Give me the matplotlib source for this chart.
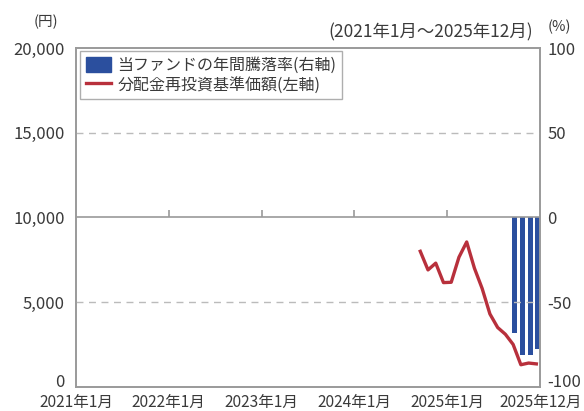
import matplotlib
matplotlib.use('Agg')
import matplotlib.pyplot as plt
from matplotlib.patches import Patch
from matplotlib.lines import Line2D

plt.rcParams['font.family'] = ['Noto Sans CJK JP', 'DejaVu Sans']

# data (month index: 0 = 2021年1月)
tick_pos = [0, 12, 24, 36, 48, 60]
tick_labels = ['2021年1月', '2022年1月', '2023年1月', '2024年1月', '2025年1月', '2025年12月']

nav_month = [44.5, 45.5, 46.5, 47.5, 48.5, 49.5, 50.5, 51.5, 52.5, 53.5,
             54.5, 55.5, 56.5, 57.5, 58.5, 59.5]
nav_value = [8000, 6900, 7300, 6150, 6170, 7650, 8550, 7000, 5800, 4300,
             3500, 3100, 2500, 1300, 1400, 1350]

bar_month = [56.7, 57.7, 58.7, 59.7]
bar_value = [-68.5, -81.5, -81.0, -77.5]

left_ticks = [0, 5000, 10000, 15000, 20000]
left_labels = ['0', '5,000', '10,000', '15,000', '20,000']
right_ticks = [-100, -50, 0, 50, 100]
right_labels = ['-100', '-50', '0', '50', '100']

gray = '#9a9a9a'
txt = '#3a3a3a'
red = '#b8303c'
blue = '#2b4f9e'

fig = plt.figure(figsize=(5.84, 4.11), dpi=100)
ax = fig.add_axes([0.130, 0.059, 0.795, 0.824])
ax2 = ax.twinx()

ax2.bar(bar_month, bar_value, width=0.62, color=blue, zorder=2)
ax2.set_ylim(-100, 100)
ax2.set_yticks(right_ticks)
# lowest labels drawn separately so they sit a touch higher
ax2.set_yticklabels([''] + right_labels[1:])

ax.set_zorder(ax2.get_zorder() + 1)
ax.patch.set_visible(False)

ax.axhline(5000, color='#bbbbbb', lw=1, ls=(0, (5, 4)), zorder=1)
ax.axhline(15000, color='#bbbbbb', lw=1, ls=(0, (5, 4)), zorder=1)
ax.axhline(10000, color=gray, lw=1.2, zorder=1)
ax.vlines(tick_pos[1:5], 10000, 10450, color=gray, lw=1.2, zorder=1)

ax.plot(nav_month, nav_value, color=red, lw=2.4, zorder=3)

ax.set_xlim(0, 60)
ax.set_ylim(0, 20000)
ax.set_yticks(left_ticks)
ax.set_yticklabels([''] + left_labels[1:])
ax.set_xticks(tick_pos)
ax.set_xticklabels(tick_labels)

ax.annotate(left_labels[0], xy=(0, 0), xycoords='axes fraction', xytext=(-8, 3),
            textcoords='offset points', ha='right', va='center',
            fontsize=12, color=txt)
ax.annotate(right_labels[0], xy=(1, 0), xycoords='axes fraction', xytext=(5, 3),
            textcoords='offset points', ha='left', va='center',
            fontsize=12, color=txt)

for a in (ax, ax2):
    for s in a.spines.values():
        s.set_color(gray)
        s.set_linewidth(1.2)
ax.tick_params(axis='y', length=0, pad=8, labelsize=12, labelcolor=txt)
ax.tick_params(axis='x', length=0, pad=5, labelsize=11.2, labelcolor=txt)
ax2.tick_params(axis='y', length=0, pad=5, labelsize=12, labelcolor=txt)

handles = [Patch(facecolor=blue, edgecolor=blue),
           Line2D([0], [0], color=red, lw=2.4)]
labels = ['当ファンドの年間騰落率(右軸)', '分配金再投資基準価額(左軸)']
leg = ax.legend(handles, labels, loc='upper left', bbox_to_anchor=(0.009, 0.99),
                fontsize=11.5, frameon=True, fancybox=False, edgecolor=gray,
                handlelength=1.6, handleheight=1.0, handletextpad=0.4,
                labelspacing=0.15, borderpad=0.35, borderaxespad=0)
leg.get_frame().set_linewidth(1.0)
for t in leg.get_texts():
    t.set_color(txt)

fig.text(0.079, 0.947, '(円)', fontsize=10.5, color=txt, ha='center', va='center')
fig.text(0.913, 0.922, '(2021年1月～2025年12月)', fontsize=12.5, color=txt,
         ha='right', va='center')
fig.text(0.937, 0.935, '(%)', fontsize=10.5, color=txt, ha='left', va='center')

fig.savefig('out.png', dpi=100)
